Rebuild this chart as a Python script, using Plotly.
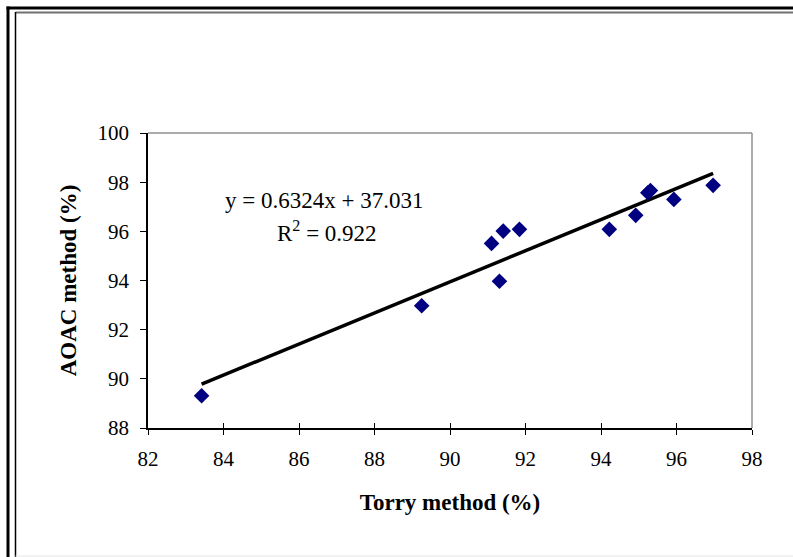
import plotly.graph_objects as go

# Data
torry = [83.42, 89.25, 91.10, 91.31, 91.41, 91.84, 94.22, 94.92, 95.24, 95.31, 95.93, 96.97]
aoac = [89.31, 92.97, 95.51, 93.97, 96.01, 96.08, 96.08, 96.65, 97.57, 97.66, 97.30, 97.87]
slope = 0.6324
intercept = 37.031
r2 = 0.922
x_ticks = [82, 84, 86, 88, 90, 92, 94, 96, 98]
y_ticks = [88, 90, 92, 94, 96, 98, 100]

FONT = "Liberation Serif, Times New Roman, serif"

W, H = 793, 557
L, R, T, B = 148, 752, 133, 428


def px(xp):
    return (xp - L) / (R - L)


def py(yp):
    return (B - yp) / (B - T)


xmin, xmax = min(torry), max(torry)
fig = go.Figure()
fig.add_trace(go.Scatter(
    x=[xmin, xmax], y=[slope * xmin + intercept, slope * xmax + intercept],
    mode="lines", line=dict(color="black", width=3.5), showlegend=False,
    hoverinfo="skip"))
fig.add_trace(go.Scatter(
    x=torry, y=aoac, mode="markers",
    marker=dict(symbol="diamond", size=12, color="#000080"),
    showlegend=False))
# invisible trace on overlay axis for inside ticks
fig.add_trace(go.Scatter(x=[82], y=[88], xaxis="x2", mode="markers",
                         marker=dict(opacity=0), showlegend=False, hoverinfo="skip"))

fig.update_layout(
    width=W, height=H,
    margin=dict(l=L, r=W - R, t=T, b=H - B),
    paper_bgcolor="white", plot_bgcolor="white",
    font=dict(family=FONT, size=21, color="black"),
    xaxis=dict(range=[82, 98], tickvals=x_ticks, showgrid=False, zeroline=False,
               showline=True, linecolor="black", linewidth=1.5,
               ticks="outside", ticklen=5, tickcolor="black", tickwidth=1,
               ticklabelstandoff=6,
               tickfont=dict(family=FONT, size=21),
               title=dict(text="<b>Torry method (%)</b>", font=dict(family=FONT, size=23),
                          standoff=24)),
    xaxis2=dict(range=[82, 98], tickvals=x_ticks, overlaying="x", side="bottom",
                showgrid=False, zeroline=False, showticklabels=False,
                ticks="inside", ticklen=5, tickcolor="black", tickwidth=1),
    yaxis=dict(range=[88, 100], tickvals=y_ticks, showgrid=False, zeroline=False,
               showline=True, linecolor="black", linewidth=1.5,
               ticks="outside", ticklen=6, tickcolor="black", tickwidth=1,
               ticklabelstandoff=7,
               tickfont=dict(family=FONT, size=21),
               title=dict(text="<b>AOAC method (%)</b>", font=dict(family=FONT, size=23),
                          standoff=14)),
)

# plot area grey top & right borders
fig.add_shape(type="line", xref="paper", yref="paper", x0=0, x1=1, y0=1, y1=1,
              line=dict(color="#909090", width=1.5))
fig.add_shape(type="line", xref="paper", yref="paper", x0=1, x1=1, y0=0, y1=1,
              line=dict(color="#909090", width=1.5))

# outer frame
fig.add_shape(type="line", xref="paper", yref="paper", x0=px(6.5), x1=px(800), y0=py(8), y1=py(8),
              line=dict(color="black", width=3))
fig.add_shape(type="line", xref="paper", yref="paper", x0=px(8), x1=px(8), y0=py(6.5), y1=py(560),
              line=dict(color="black", width=3))
fig.add_shape(type="line", xref="paper", yref="paper", x0=px(15.5), x1=px(800), y0=py(12.5), y1=py(12.5),
              line=dict(color="#707070", width=2))
fig.add_shape(type="line", xref="paper", yref="paper", x0=px(15.5), x1=px(15.5), y0=py(12), y1=py(560),
              line=dict(color="black", width=1.5))
fig.add_shape(type="line", xref="paper", yref="paper", x0=px(15.5), x1=px(800), y0=py(556), y1=py(556),
              line=dict(color="#e6e6e6", width=1))

fig.add_annotation(xref="paper", yref="paper", x=px(324), y=py(200),
                   xanchor="center", yanchor="middle",
                   text=f"y = {slope}x + {intercept}", showarrow=False,
                   font=dict(family=FONT, size=23))
fig.add_annotation(xref="paper", yref="paper", x=px(327), y=py(231),
                   xanchor="center", yanchor="middle",
                   text=f"R<sup>2</sup> = {r2}", showarrow=False,
                   font=dict(family=FONT, size=23))

fig.write_html("out.html", config={"displayModeBar": False},
               post_script="document.body.style.margin='0';")
